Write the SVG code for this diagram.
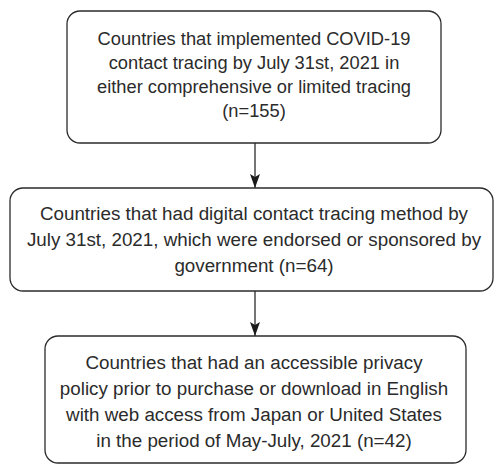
<svg xmlns="http://www.w3.org/2000/svg" width="494" height="465" viewBox="0 0 494 465">
<defs>
<style>
.box{fill:#fff;stroke:#2b2b2b;stroke-width:1.3}
.t{font-family:"Liberation Sans",Arial,sans-serif;font-size:18.3px;fill:#2b2b2b;text-anchor:middle}
.t2{font-size:18.8px}
.c{stroke:#2b2b2b;stroke-width:1.3;fill:none}
</style>
<marker id="ah" viewBox="0 0 14 10" refX="14" refY="5" markerWidth="14" markerHeight="10" markerUnits="userSpaceOnUse" orient="auto">
<path d="M0,0 L14,5 L0,10 L3,5 Z" fill="#1a1a1a"/>
</marker>
</defs>
<rect width="494" height="465" fill="#fff"/>
<g id="connectors">
<line class="c" x1="255" y1="143" x2="255" y2="188" marker-end="url(#ah)"/>
<line class="c" x1="255" y1="291" x2="255" y2="336" marker-end="url(#ah)"/>
</g>
<g id="node1">
<rect class="box" x="67" y="11" width="374" height="132" rx="13"/>
<text class="t" x="254" y="45">Countries that implemented COVID-19</text>
<text class="t" x="254" y="69">contact tracing by July 31st, 2021 in</text>
<text class="t" x="254" y="93">either comprehensive or limited tracing</text>
<text class="t" x="254" y="117">(n=155)</text>
</g>
<g id="node2">
<rect class="box" x="10" y="188" width="483" height="103" rx="13"/>
<text class="t t2" x="254" y="220">Countries that had digital contact tracing method by</text>
<text class="t t2" x="254" y="246">July 31st, 2021, which were endorsed or sponsored by</text>
<text class="t t2" x="254" y="272">government (n=64)</text>
</g>
<g id="node3">
<rect class="box" x="45" y="336" width="421" height="127" rx="13"/>
<text class="t t2" x="254" y="369">Countries that had an accessible privacy</text>
<text class="t t2" x="254" y="395">policy prior to purchase or download in English</text>
<text class="t t2" x="254" y="421">with web access from Japan or United States</text>
<text class="t t2" x="254" y="447">in the period of May-July, 2021 (n=42)</text>
</g>
</svg>
